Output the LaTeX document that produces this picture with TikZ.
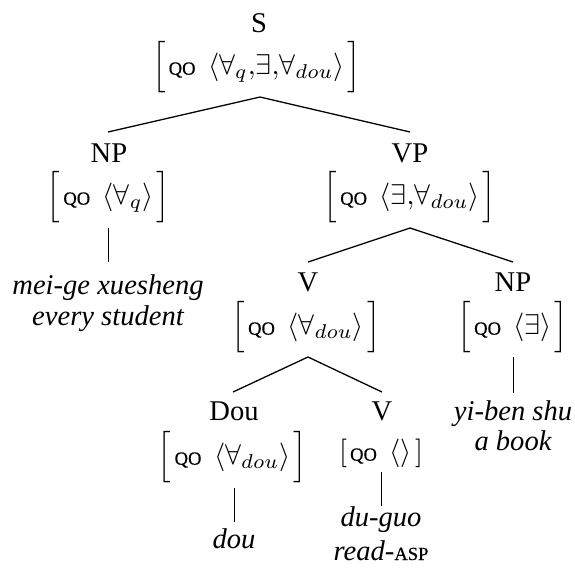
\documentclass[tikz,border=0pt]{standalone}
\usepackage{fontspec}
\setmainfont{Liberation Serif}
\newcommand{\fakesc}[1]{{\fontsize{6.5}{8}\selectfont\addfontfeatures{FakeBold=0.4}#1}}
\newcommand{\avmbig}[1]{$\Big[\mkern2mu\mbox{\fakesc{QO}}\:\:\langle #1\rangle\mkern2mu\Big]$}
\newcommand{\avmsmall}[1]{$[\mkern2mu\mbox{\fakesc{QO}}\:\:\langle #1\rangle\mkern2mu]$}
\begin{document}
\begin{tikzpicture}[x=0.35pt,y=-0.35pt,
  cat/.style={inner sep=0pt, anchor=base},
  avm/.style={inner sep=0pt, anchor=center},
  word/.style={inner sep=0pt, anchor=base, font=\itshape},
  branch/.style={line width=0.45pt}]
\useasboundingbox (0,0) rectangle (575,571);
% S
\node[cat] (s) at (259,32) {S};
\node[avm] (sA) at (256.7,67.5) {\avmbig{\forall_q{,}\exists{,}\forall_{dou}}};
\coordinate (sB) at (260,97);
% NP (subject)
\coordinate (npT) at (108,132);
\node[cat] (np) at (109,162) {NP};
\node[avm] (npA) at (108.5,197.5) {\avmbig{\forall_q}};
\coordinate (npB) at (108.5,228);
\coordinate (npW) at (108.5,262);
\node[word] (w1) at (108,294) {mei-ge xuesheng};
\node[word] (w1b) at (108,325) {every student};
% VP
\coordinate (vpT) at (410,132);
\node[cat] (vp) at (410,162) {VP};
\node[avm] (vpA) at (410,197.5) {\avmbig{\exists{,}\forall_{dou}}};
\coordinate (vpB) at (410,228);
% V
\coordinate (vT) at (308,262);
\node[cat] (v) at (308,291) {V};
\node[avm] (vA) at (306,327.5) {\avmbig{\forall_{dou}}};
\coordinate (vB) at (308,357);
% NP object
\coordinate (np2T) at (513,262);
\node[cat] (np2) at (513,291) {NP};
\node[avm] (np2A) at (513,327.5) {\avmbig{\exists}};
\coordinate (np2B) at (513.5,357);
\coordinate (np2W) at (513.5,393);
\node[word] (w2) at (513,420) {yi-ben shu};
\node[word] (w2b) at (513,450) {a book};
% Dou
\coordinate (douT) at (233,392);
\node[cat] (dou) at (234,420) {Dou};
\node[avm] (douA) at (232.5,457.5) {\avmbig{\forall_{dou}}};
\coordinate (douB) at (234.5,488);
\coordinate (douW) at (234.5,522);
\node[word] (w3) at (234,548) {dou};
% V lower
\coordinate (v2T) at (382,392);
\node[cat] (v2) at (382,420) {V};
\node[avm] (v2A) at (381,453.5) {\avmsmall{}};
\coordinate (v2B) at (381.5,472);
\coordinate (v2W) at (381.5,506);
\node[word] (w4) at (381,526) {du-guo};
\node[word] (w4b) at (381,560) {read-{\upshape\fakesc{ASP}}};
% branches
\draw[branch] (npT) -- (sB) -- (vpT);
\draw[branch] (npB) -- (npW);
\draw[branch] (vT) -- (vpB) -- (np2T);
\draw[branch] (np2B) -- (np2W);
\draw[branch] (douT) -- (vB) -- (v2T);
\draw[branch] (douB) -- (douW);
\draw[branch] (v2B) -- (v2W);
\end{tikzpicture}
\end{document}
